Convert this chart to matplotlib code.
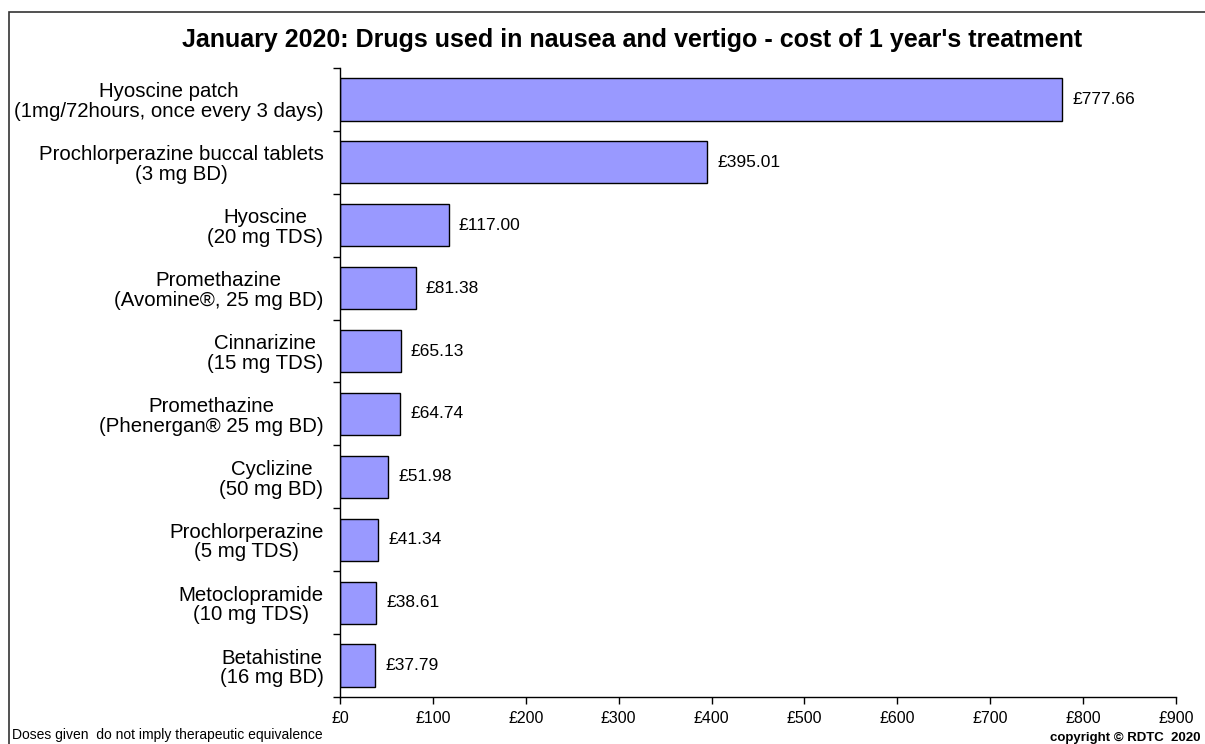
import numpy as np
from matplotlib import pyplot as plt
from matplotlib.patches import Rectangle
from matplotlib.ticker import FixedLocator, FuncFormatter

plt.rcParams['font.family'] = ['Liberation Sans', 'DejaVu Sans']

drugs = [
    "Hyoscine patch\n(1mg/72hours, once every 3 days)",
    "Prochlorperazine buccal tablets\n(3 mg BD)",
    "Hyoscine\n(20 mg TDS)",
    "Promethazine\n(Avomine\u00ae, 25 mg BD)",
    "Cinnarizine\n(15 mg TDS)",
    "Promethazine\n(Phenergan\u00ae 25 mg BD)",
    "Cyclizine\n(50 mg BD)",
    "Prochlorperazine\n(5 mg TDS)",
    "Metoclopramide\n(10 mg TDS)",
    "Betahistine\n(16 mg BD)",
]
costs = [777.66, 395.01, 117.00, 81.38, 65.13, 64.74, 51.98, 41.34, 38.61, 37.79]
xticks = np.arange(0, 901, 100)

fig = plt.figure(figsize=(12.05, 7.44), dpi=100)
ax = fig.add_axes([0.2822, 0.0632, 0.6937, 0.8454])

ypos = np.arange(len(drugs))
ax.barh(ypos, costs, height=0.67, color='#9999FF', edgecolor='black', linewidth=1.0)

for y, c in zip(ypos, costs):
    ax.text(c + 11, y, "\u00a3%.2f" % c, va='center', ha='left', fontsize=12.5)

ax.set_xlim(0, 900)
ax.set_ylim(len(drugs) - 0.5, -0.5)

ax.set_yticks(ypos)
ax.set_yticklabels(drugs, fontsize=14.7)
for label in ax.get_yticklabels():
    label.set_multialignment('center')
    label.set_linespacing(1.05)
ax.tick_params(axis='y', which='major', length=0, pad=12)
# ticks sit on the boundaries between categories
ax.yaxis.set_minor_locator(FixedLocator(np.arange(-0.5, len(drugs), 1.0)))
ax.tick_params(axis='y', which='minor', length=5, width=1, direction='out')

ax.set_xticks(xticks)
ax.xaxis.set_major_formatter(FuncFormatter(lambda v, p: "\u00a3%d" % v))
ax.tick_params(axis='x', length=5, width=1, direction='out', labelsize=11.5, pad=5)

ax.spines['right'].set_visible(False)
ax.spines['top'].set_visible(False)
ax.spines['left'].set_linewidth(1)
ax.spines['bottom'].set_linewidth(1)

fig.text(0.5245, 0.946, "January 2020: Drugs used in nausea and vertigo - cost of 1 year's treatment",
         ha='center', va='center', fontsize=18, fontweight='bold')
fig.text(0.010, 0.003, "Doses given  do not imply therapeutic equivalence", ha='left', va='bottom', fontsize=10)
fig.text(0.996, 0.0, "copyright \u00a9 RDTC  2020", ha='right', va='bottom', fontsize=9.5, fontweight='bold')

# outer frame
fig.patches.append(Rectangle((9 / 1205, -0.1), 1.2, 1 - 12 / 744 + 0.1, transform=fig.transFigure,
                             fill=False, edgecolor='#333333', linewidth=1.2))

fig.savefig('out.png', dpi=100)
